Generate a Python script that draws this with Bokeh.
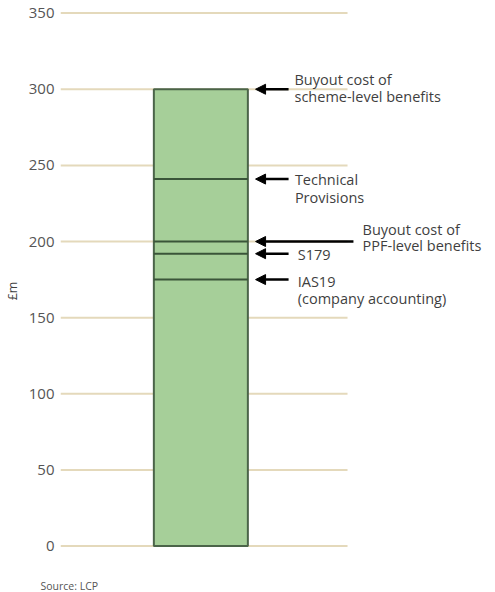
from bokeh.plotting import figure
from bokeh.models import Range1d, FixedTicker, Arrow, NormalHead, Title, ColumnDataSource
from bokeh.core.properties import value
from bokeh.embed import file_html
from bokeh.resources import INLINE

# ---- data ----
total_value = 300
measure_names = ["Buyout cost of scheme-level benefits", "Technical Provisions",
                 "Buyout cost of PPF-level benefits", "S179", "IAS19 (company accounting)"]
measure_values = [300, 241, 200, 192, 175]
label_lines = [["Buyout cost of", "scheme-level benefits"],
               ["Technical", "Provisions"],
               ["Buyout cost of", "PPF-level benefits"],
               ["S179"],
               ["IAS19", "(company accounting)"]]
y_ticks = [0, 50, 100, 150, 200, 250, 300, 350]
y_axis_title = "£m"
source_note = "Source: LCP"

# ---- layout constants ----
FONT = "Open Sans"
TXT = "#3f3f3f"
GRID = "#e4d9bb"
BAR_FILL = "#a6cf99"
BAR_LINE = "#4b6449"

p = figure(width=495, height=592, output_backend="svg", toolbar_location=None,
           x_range=Range1d(-1.493, 3.134), y_range=Range1d(-20, 355),
           min_border_left=60, min_border_right=0, min_border_top=5, min_border_bottom=0,
           x_axis_location=None)
p.outline_line_color = None
p.xgrid.visible = False
p.ygrid.visible = False
p.background_fill_color = "white"
p.border_fill_color = "white"

ax = p.yaxis[0]
ax.ticker = FixedTicker(ticks=y_ticks)
ax.axis_line_color = None
ax.major_tick_line_color = None
ax.minor_tick_line_color = None
ax.major_tick_out = 0
ax.major_tick_in = 0
ax.minor_tick_out = 0
ax.minor_tick_in = 0
ax.major_label_standoff = 6
ax.major_label_text_font = FONT
ax.major_label_text_font_size = "15px"
ax.major_label_text_color = "#555555"
ax.axis_label = y_axis_title
ax.axis_label_standoff = 5
ax.axis_label_text_font = FONT
ax.axis_label_text_font_size = "12.5px"
ax.axis_label_text_font_style = "normal"
ax.axis_label_text_color = TXT

# source note below the plot
p.add_layout(Title(text=source_note, align="left", offset=-20, standoff=0,
                   text_font=FONT, text_font_size="10.5px", text_font_style="normal",
                   text_color="#555555"), "below")

# gridlines (stop short of the annotation area)
grid_left, grid_right = -1.493, 1.56
p.segment(x0=[grid_left] * len(y_ticks), x1=[grid_right] * len(y_ticks),
          y0=y_ticks, y1=y_ticks, line_color=GRID, line_width=2)

# bar
p.vbar(x=[0], top=[total_value], bottom=[0], width=1.0, fill_color=BAR_FILL,
       line_color=BAR_LINE, line_width=2)

# measure lines inside bar
inner = measure_values[1:]
p.segment(x0=[-0.5] * len(inner), x1=[0.5] * len(inner), y0=inner, y1=inner,
          line_color="#3a5539", line_width=2)

# arrows
tip = 0.582
tails = [0.933, 0.933, 1.623, 0.933, 0.933]
for v, t in zip(measure_values, tails):
    p.add_layout(Arrow(end=NormalHead(size=10, fill_color="black", line_color="black"),
                       x_start=t, y_start=v, x_end=tip, y_end=v,
                       line_color="black", line_width=2.5))

# labels
text_x = [0.996, 1.0, 1.72, 1.03, 1.03]
first_offsets = [-10, 0.5, -12.5, 1, 1.5]
line_gaps = [17, 17.5, 16, 17, 17.5]
xs, ys, txts, offs = [], [], [], []
for lines, v, tx, off, gap in zip(label_lines, measure_values, text_x, first_offsets, line_gaps):
    for i, line in enumerate(lines):
        xs.append(tx)
        ys.append(v)
        txts.append(line)
        offs.append(off + i * gap)
src = ColumnDataSource(dict(x=xs, y=ys, text=txts, yoff=offs))
p.text(x="x", y="y", text="text", y_offset="yoff", source=src,
       text_font=value(FONT), text_font_size="14.5px", text_color=TXT,
       text_baseline="middle", text_align="left")

open("out.html", "w").write(file_html(p, INLINE))
